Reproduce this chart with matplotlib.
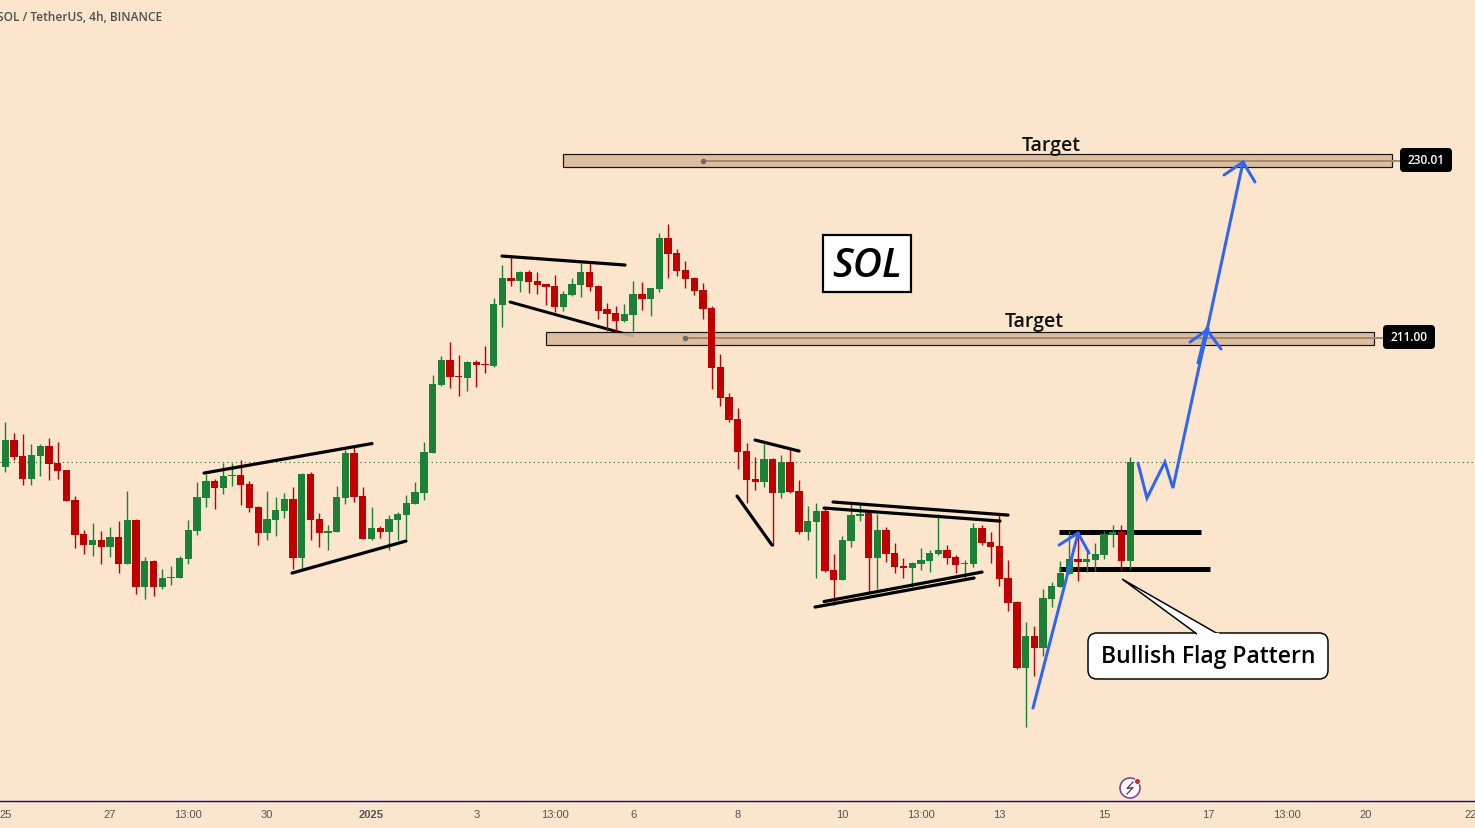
import matplotlib
matplotlib.use("Agg")
import matplotlib.pyplot as plt
from matplotlib.patches import FancyBboxPatch, Polygon, Circle, Rectangle
import numpy as np

# Candle data (4h SOL/USDT), one value per candle
highs = [202.00, 200.83, 200.72, 199.65, 199.65, 200.29, 199.86, 196.86, 194.04, 190.44,
         191.19, 190.33, 190.76, 191.40, 194.61, 191.62, 187.55, 187.22, 186.26, 186.58,
         187.65, 191.51, 195.58, 196.43, 195.90, 197.65, 197.58, 197.90, 195.69, 193.01,
         194.62, 193.98, 194.40, 195.05, 196.55, 196.65, 192.26, 190.98, 195.19, 199.01,
         199.44, 195.05, 192.90, 190.87, 192.05, 192.37, 194.19, 195.58, 199.87, 207.04,
         209.08, 210.58, 209.18, 208.54, 208.65, 210.15, 215.29, 218.82, 219.89, 218.18,
         218.28, 218.07, 216.78, 217.75, 216.03, 217.43, 219.03, 219.18, 216.68, 214.75,
         214.43, 214.64, 217.11, 217.00, 216.36, 222.25, 223.21, 220.53, 219.25, 217.53,
         216.89, 214.43, 209.29, 205.11, 203.50, 199.75, 198.25, 199.65, 198.15, 198.47,
         199.22, 195.79, 193.01, 193.33, 193.01, 187.87, 189.79, 193.22, 193.11, 192.36,
         192.15, 190.76, 189.04, 187.44, 187.01, 188.51, 188.29, 192.15, 188.83, 187.76,
         187.22, 191.19, 190.97, 190.22, 192.22, 187.22, 182.83, 180.58, 180.15, 184.11,
         184.86, 187.11, 190.32, 190.32, 188.08, 189.04, 190.32, 190.97, 190.97, 198.25]
lows = [196.68, 197.93, 195.29, 195.29, 196.22, 195.83, 195.93, 193.58, 188.54, 187.90,
        187.69, 186.83, 187.58, 185.87, 186.83, 183.62, 183.08, 183.40, 184.15, 184.58,
        185.33, 186.83, 189.94, 192.94, 192.72, 194.33, 195.15, 193.15, 192.40, 188.87,
        189.41, 189.83, 191.76, 186.30, 186.16, 189.41, 188.66, 188.33, 190.26, 193.26,
        193.48, 189.51, 189.41, 189.62, 188.33, 189.41, 189.48, 193.26, 193.69, 198.72,
        205.90, 205.68, 204.83, 205.36, 205.79, 207.29, 207.86, 212.21, 216.57, 215.93,
        215.82, 215.71, 214.54, 213.79, 213.89, 215.50, 215.39, 216.03, 213.04, 211.75,
        211.75, 212.71, 211.75, 214.00, 213.36, 215.93, 217.43, 217.64, 216.36, 215.61,
        213.04, 205.54, 203.72, 202.00, 196.97, 193.33, 194.72, 195.04, 188.72, 193.86,
        194.40, 190.01, 189.36, 185.30, 185.94, 182.40, 185.08, 188.62, 191.40, 183.80,
        184.12, 187.01, 185.83, 185.30, 184.33, 186.15, 185.94, 187.76, 186.79, 185.83,
        185.30, 186.47, 188.83, 186.90, 184.43, 181.76, 175.55, 169.30, 174.80, 176.94,
        182.19, 184.33, 185.72, 185.01, 185.93, 186.04, 187.33, 188.61, 186.15, 186.26]
opens = [197.22, 200.08, 198.36, 195.93, 198.36, 199.43, 197.61, 196.86, 193.65, 190.01,
         188.87, 189.37, 188.62, 189.69, 186.83, 191.51, 184.37, 187.12, 184.37, 185.33,
         185.33, 187.37, 190.37, 193.90, 195.68, 194.97, 196.22, 196.33, 195.37, 192.90,
         190.16, 191.55, 192.51, 193.76, 187.48, 196.44, 191.62, 190.16, 190.26, 193.90,
         198.69, 194.08, 189.48, 190.66, 190.26, 191.51, 192.05, 193.26, 194.44, 198.72,
         205.97, 208.65, 206.93, 206.76, 208.43, 208.22, 208.00, 214.54, 217.43, 217.11,
         218.07, 217.11, 216.78, 216.57, 214.32, 215.61, 216.68, 218.07, 216.57, 214.11,
         213.68, 212.82, 213.46, 215.71, 215.18, 216.25, 221.71, 220.10, 218.28, 217.43,
         216.14, 214.21, 207.89, 204.68, 202.32, 198.90, 195.90, 195.58, 198.04, 194.40,
         197.72, 194.61, 190.22, 191.29, 192.47, 186.15, 185.08, 189.26, 191.97, 192.26,
         187.44, 190.44, 187.97, 186.58, 186.37, 186.79, 187.12, 187.87, 188.29, 187.54,
         186.76, 186.79, 190.65, 189.15, 188.72, 185.29, 182.72, 175.65, 179.08, 177.79,
         183.04, 184.33, 185.72, 187.33, 187.00, 187.22, 187.75, 189.90, 190.22, 187.11]
closes = [200.08, 198.29, 195.93, 198.47, 199.43, 197.54, 196.79, 193.58, 189.94, 188.87,
          189.37, 188.62, 189.69, 186.83, 191.51, 184.37, 187.12, 184.37, 185.30, 185.40,
          187.44, 190.44, 193.97, 195.68, 194.97, 196.22, 196.29, 195.29, 192.83, 190.16,
          191.62, 192.58, 193.76, 187.48, 196.44, 191.55, 190.16, 190.30, 193.98, 198.69,
          194.01, 189.51, 190.66, 190.26, 191.62, 192.15, 193.33, 194.51, 198.79, 206.08,
          208.65, 206.86, 206.86, 208.43, 208.11, 208.15, 214.64, 217.43, 217.11, 218.07,
          217.00, 216.68, 216.46, 214.32, 215.71, 216.78, 218.07, 216.46, 213.89, 213.57,
          212.82, 213.57, 215.71, 215.18, 216.36, 221.71, 220.00, 218.18, 217.32, 216.03,
          214.11, 207.79, 204.57, 202.22, 198.79, 195.79, 195.58, 198.04, 194.40, 197.72,
          194.51, 190.22, 191.40, 192.47, 186.04, 185.08, 189.36, 192.04, 192.15, 187.44,
          190.44, 187.87, 186.47, 186.40, 186.90, 187.22, 187.97, 188.29, 187.44, 186.69,
          186.90, 190.65, 189.04, 188.62, 185.18, 182.61, 175.65, 179.08, 177.79, 183.15,
          184.43, 185.83, 187.33, 187.00, 187.33, 187.86, 190.00, 190.22, 187.11, 197.71]

# Time axis
tick_pos = [0, 12, 21, 30, 42, 54, 63, 72, 84, 96, 105, 114, 126, 138, 147, 156, 168]
tick_labels = ["25", "27", "13:00", "30", "2025", "3", "13:00", "6", "8", "10",
               "13:00", "13", "15", "17", "13:00", "20", "22"]

# Target zones: level, half height, first and last candle, start of the middle line
zone_levels = [230.01, 211.00]
zone_half = 0.70
zone_start = [64, 62]
zone_end = [159, 157]
zone_mid_start = [80, 78]

# Hand drawn trend lines (candle index, price)
thin_lines = [
    ((22.79, 42.05), (196.54, 199.70)),
    ((32.88, 45.95), (185.83, 189.26)),
    ((56.96, 71.07), (219.78, 218.82)),
    ((85.98, 91.02), (200.08, 198.90)),
    ((83.91, 87.92), (194.08, 188.83)),
    ((94.92, 114.99), (193.44, 192.04)),
    ((93.89, 114.07), (192.79, 191.40)),
    ((93.89, 112.01), (182.78, 185.94)),
    ((92.86, 111.09), (182.19, 185.30)),
]
under_zone_line = ((57.88, 71.98), (214.86, 211.21))
flag_lines = [((120.84, 137.12), (190.22, 190.22)), ((120.84, 138.15), (186.26, 186.26))]

# Blue projected path
blue_paths = [
    ([117.85, 123.02], [171.37, 190.12]),
    ([120.84, 123.02, 124.28], [188.83, 190.12, 187.97]),
    ([129.89, 130.92, 132.98, 133.90, 137.81], [197.61, 193.86, 197.72, 194.94, 211.86]),
    ([135.86, 137.81, 139.42], [210.57, 211.86, 209.82]),
    ([137.81, 141.94], [211.86, 229.85]),
    ([139.76, 141.94, 143.31], [228.46, 229.85, 227.71]),
]
blue_short = ([136.89, 137.81], [208.43, 211.86])

BG = "#fce5cd"
GREEN = "#1b8136"
RED = "#c00000"
BLUE = "#2f66ee"
PX = 0.72  # one pixel in points at dpi 100

fig = plt.figure(figsize=(14.75, 8.29), dpi=100, facecolor=BG)
ax = fig.add_axes([0, 27 / 829, 1, 802 / 829], facecolor=BG)
ax.set_xlim(-0.608, 168.54)
ax.set_ylim(161.42, 247.31)

# Last price dotted line
ax.axhline(closes[-1], color="#1f6b3a", lw=0.8, ls=(0, (1, 3)), zorder=1)

# Zones
ax.plot(*under_zone_line, color="black", lw=3 * PX, zorder=1.5, solid_capstyle="round")
for i in range(len(zone_levels)):
    lev = zone_levels[i]
    ax.add_patch(Rectangle((zone_start[i], lev - zone_half), zone_end[i] - zone_start[i], 2 * zone_half,
                           facecolor="#d9b99b", edgecolor="black", lw=1.2 * PX, alpha=0.9, zorder=2))
    ax.plot([zone_mid_start[i], zone_end[i] + 0.9], [lev, lev], color="#a68a70", lw=2 * PX, zorder=2.1)
    ax.plot([zone_mid_start[i]], [lev], "o", color="#6b6b6b", ms=3, zorder=2.2)

for xs, ys in flag_lines:
    ax.plot(xs, ys, color="black", lw=5 * PX, zorder=2.5, solid_capstyle="butt")

# Candles
idx = np.arange(len(closes))
colors = [GREEN if c >= o else RED for o, c in zip(opens, closes)]
ax.vlines(idx, lows, highs, colors=colors, lw=1.4 * PX, zorder=3)
ax.bar(idx, np.abs(np.array(closes) - np.array(opens)), bottom=np.minimum(opens, closes),
       width=0.84, color=colors, linewidth=0, zorder=3)

for xs, ys in thin_lines:
    ax.plot(xs, ys, color="black", lw=3.2 * PX, zorder=4, solid_capstyle="round")

for xs, ys in blue_paths:
    ax.plot(xs, ys, color=BLUE, lw=3 * PX, zorder=5, solid_capstyle="round", solid_joinstyle="miter")
ax.plot(*blue_short, color=BLUE, lw=4.5 * PX, zorder=5)

# Axis
for side in ["top", "left", "right"]:
    ax.spines[side].set_visible(False)
ax.spines["bottom"].set_color("#1a0a9c")
ax.spines["bottom"].set_linewidth(1.4 * PX)
ax.set_yticks([])
ax.set_xticks(tick_pos)
ax.set_xticklabels(tick_labels, fontsize=8, color="#555555", family="Liberation Sans")
ax.tick_params(axis="x", length=0, pad=6)
ax.get_xticklabels()[4].set_fontweight("bold")

# Overlay in pixels for labels and boxes
ov = fig.add_axes([0, 0, 1, 1])
ov.set_xlim(0, 1475)
ov.set_ylim(828, -1)
ov.axis("off")
ov.patch.set_alpha(0)

FONT = "Open Sans"
ov.text(-3, 16.5, "SOL / TetherUS, 4h, BINANCE", fontsize=8.6, color="#4f4f4f", family=FONT,
        fontweight="semibold", va="center", ha="left", clip_on=False)

ov.text(1051, 145, "Target", fontsize=14, family=FONT, fontweight="semibold", ha="center", va="center", color="#111111")
ov.text(1034, 321, "Target", fontsize=14, family=FONT, fontweight="semibold", ha="center", va="center", color="#111111")

# SOL box
ov.add_patch(Rectangle((823, 235), 88, 57, facecolor="white", edgecolor="black", lw=2.2 * PX))
ov.text(867, 266, "SOL", fontsize=29, family=FONT, style="italic", fontweight="semibold",
        ha="center", va="center", color="black")

# Price labels
for (x0, y0, txt) in [(1400, 148, "230.01"), (1383, 325, "211.00")]:
    ov.add_patch(FancyBboxPatch((x0 + 3, y0 + 3), 46, 18, boxstyle="round,pad=3,rounding_size=4",
                                facecolor="black", edgecolor="none"))
    ov.text(x0 + 26, y0 + 12, txt, color="white", fontsize=8.6, family=FONT, fontweight="semibold", ha="center", va="center")

# Callout
ov.add_patch(FancyBboxPatch((1096, 641), 224, 30, boxstyle="round,pad=8,rounding_size=9",
                            facecolor="white", edgecolor="black", lw=1.5 * PX, zorder=6))
ov.add_patch(Polygon([(1197, 634), (1122, 579), (1218, 634)], closed=True, facecolor="white",
                     edgecolor="black", lw=1.5 * PX, zorder=6, joinstyle="miter"))
ov.plot([1197.5, 1217.5], [633.5, 633.5], color="white", lw=2.2 * PX, zorder=7)
ov.text(1208, 656, "Bullish Flag Pattern", fontsize=16.6, family=FONT, fontweight="semibold",
        ha="center", va="center", color="black", zorder=8)

# Little icon near the time axis
ov.add_patch(Circle((1130, 788), 10, facecolor="white", edgecolor="#7b3fa0", lw=1.6 * PX))
ov.plot([1133, 1127, 1133, 1127], [782, 788.5, 787.5, 794], color="#5e2d86", lw=1.3 * PX)
ov.add_patch(Circle((1137.5, 781.5), 3, facecolor="#d3262b", edgecolor="white", lw=0.6))

plt.savefig("out.png", dpi=100, facecolor=BG)
